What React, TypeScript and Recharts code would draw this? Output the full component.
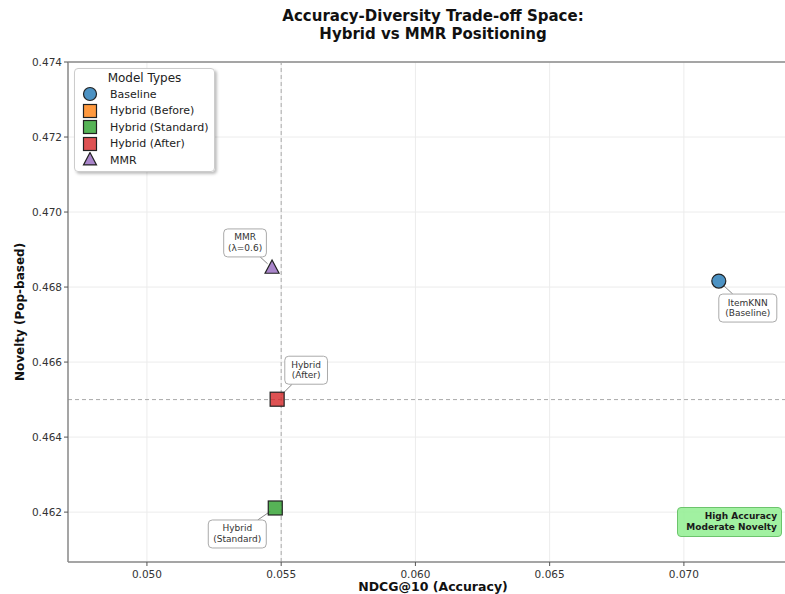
import React from "react";
import {
  ScatterChart,
  Scatter,
  XAxis,
  YAxis,
  CartesianGrid,
  ReferenceLine,
} from "recharts";

// model positions: NDCG@10 vs popularity-based novelty
const baselineNdcg = [0.0713];
const baselineNovelty = [0.46816];
const baselineNames = ["ItemKNN\n(Baseline)"];

const mmrNdcg = [0.05466];
const mmrNovelty = [0.46851];
const mmrNames = ["MMR\n(λ=0.6)"];

const hybridAfterNdcg = [0.05485];
const hybridAfterNovelty = [0.46501];
const hybridAfterNames = ["Hybrid\n(After)"];

const hybridStdNdcg = [0.05478];
const hybridStdNovelty = [0.46211];
const hybridStdNames = ["Hybrid\n(Standard)"];

const xTicks = [0.05, 0.055, 0.06, 0.065, 0.07];
const yTicks = [0.462, 0.464, 0.466, 0.468, 0.47, 0.472, 0.474];
const xDomain = [0.04706, 0.07425];
const yDomain = [0.46067, 0.474];
const refNdcg = 0.055;
const refNovelty = 0.465;

const legendItems = [
  { label: "Baseline", color: "#1f77b4", marker: "circle" },
  { label: "Hybrid (Before)", color: "#ff7f0e", marker: "square" },
  { label: "Hybrid (Standard)", color: "#2ca02c", marker: "square" },
  { label: "Hybrid (After)", color: "#d62728", marker: "square" },
  { label: "MMR", color: "#9467bd", marker: "triangle" },
];

const FONT = "'DejaVu Sans', sans-serif";

const zip = (xs: number[], ys: number[], names: string[]) =>
  xs.map((x, i) => ({ x, y: ys[i], name: names[i] }));

function Marker({ kind, cx, cy, color, size = 7 }: any) {
  const common = { fill: color, fillOpacity: 0.8, stroke: "#222", strokeWidth: 1.2 };
  if (kind === "circle") return <circle cx={cx} cy={cy} r={size} {...common} />;
  if (kind === "square")
    return <rect x={cx - size} y={cy - size} width={size * 2} height={size * 2} {...common} />;
  const h = size * 1.9;
  return (
    <polygon
      points={`${cx},${cy - h * 0.6} ${cx - size},${cy + h * 0.4} ${cx + size},${cy + h * 0.4}`}
      {...common}
    />
  );
}

// annotation box offset (px) relative to the point
function annotated(kind: string, color: string, dx: number, dy: number) {
  return (props: any) => {
    const { cx, cy, payload } = props;
    const lines: string[] = payload.name.split("\n");
    const w = Math.max(...lines.map((l) => l.length)) * 5.1 + 7;
    const h = 28;
    const bx = cx + dx;
    const by = cy + dy;
    const vx = cx - bx;
    const vy = cy - by;
    const len = Math.hypot(vx, vy);
    const s = Math.min(w / 2 / Math.abs(vx), h / 2 / Math.abs(vy));
    const x1 = bx + vx * s;
    const y1 = by + vy * s;
    const x2 = cx - (vx / len) * 6;
    const y2 = cy - (vy / len) * 6;
    return (
      <g>
        <line x1={x1} y1={y1} x2={x2} y2={y2} stroke="#888" strokeWidth={1} />
        <Marker kind={kind} cx={cx} cy={cy} color={color} />
        <rect
          x={bx - w / 2}
          y={by - h / 2}
          width={w}
          height={h}
          rx={4}
          fill="#fff"
          fillOpacity={0.85}
          stroke="#aaa"
          strokeWidth={1}
        />
        {lines.map((l, i) => (
          <text
            key={i}
            x={bx}
            y={by - 2.5 + i * 10.5}
            textAnchor="middle"
            fontSize={9}
            fontFamily={FONT}
            fill="#333"
          >
            {l}
          </text>
        ))}
      </g>
    );
  };
}

function LegendBox() {
  return (
    <div
      style={{
        position: "absolute",
        left: 74,
        top: 68,
        width: 139,
        height: 102,
        background: "rgba(255,255,255,0.92)",
        border: "1px solid #ccc",
        borderRadius: 4,
        boxShadow: "2px 2px 3px rgba(0,0,0,0.25)",
        fontFamily: FONT,
        color: "#222",
      }}
    >
      <div style={{ textAlign: "center", fontSize: 12, marginTop: 2, lineHeight: "15px" }}>
        Model Types
      </div>
      {legendItems.map((it) => (
        <div key={it.label} style={{ display: "flex", alignItems: "center", height: 16.5 }}>
          <svg width={30} height={16}>
            <Marker kind={it.marker} cx={15} cy={8} color={it.color} size={6.5} />
          </svg>
          <span style={{ fontSize: 11, marginLeft: 5 }}>{it.label}</span>
        </div>
      ))}
    </div>
  );
}

export default function App() {
  return (
    <div
      style={{
        position: "absolute",
        left: 0,
        top: 0,
        width: 785,
        height: 594,
        overflow: "hidden",
        background: "#fff",
        fontFamily: FONT,
      }}
    >
      <div
        style={{
          position: "absolute",
          left: 68,
          width: 730,
          top: 7,
          textAlign: "center",
          fontWeight: "bold",
          fontSize: 15,
          lineHeight: "18px",
          color: "#111",
        }}
      >
        Accuracy-Diversity Trade-off Space:
        <br />
        Hybrid vs MMR Positioning
      </div>
      <div style={{ position: "absolute", left: 0, top: 0 }}>
        <ScatterChart width={800} height={600} margin={{ top: 62, right: 2, left: 0, bottom: 0 }}>
          <CartesianGrid stroke="#ececec" strokeWidth={1} />
          <XAxis
            type="number"
            dataKey="x"
            domain={xDomain}
            ticks={xTicks}
            allowDataOverflow
            height={38}
            tickFormatter={(v: number) => v.toFixed(3)}
            tick={{ fontSize: 10.5, fill: "#333", fontFamily: FONT }}
            tickLine={{ stroke: "#555" }}
            tickSize={4}
            tickMargin={5}
            axisLine={{ stroke: "#8a8a8a", strokeWidth: 1.5 }}
            label={{
              value: "NDCG@10 (Accuracy)",
              position: "insideBottom",
              offset: 9,
              style: { fontSize: 12.5, fontWeight: "bold", fill: "#111", fontFamily: FONT },
            }}
          />
          <YAxis
            type="number"
            dataKey="y"
            domain={yDomain}
            ticks={yTicks}
            allowDataOverflow
            width={68}
            tickFormatter={(v: number) => v.toFixed(3)}
            tick={{ fontSize: 10.5, fill: "#333", fontFamily: FONT }}
            tickLine={{ stroke: "#555" }}
            tickSize={4}
            axisLine={{ stroke: "#8a8a8a", strokeWidth: 1.5 }}
            label={{
              value: "Novelty (Pop-based)",
              angle: -90,
              position: "insideLeft",
              offset: 20,
              style: {
                fontSize: 12,
                fontWeight: "bold",
                fill: "#111",
                fontFamily: FONT,
                textAnchor: "middle",
              },
            }}
          />
          <ReferenceLine y={yDomain[1]} stroke="#8a8a8a" strokeWidth={1.5} />
          <ReferenceLine x={refNdcg} stroke="#aaa" strokeDasharray="4 3" strokeWidth={1} />
          <ReferenceLine y={refNovelty} stroke="#aaa" strokeDasharray="4 3" strokeWidth={1} />
          <Scatter
            data={zip(baselineNdcg, baselineNovelty, baselineNames)}
            shape={annotated("circle", "#1f77b4", 29, 27)}
            isAnimationActive={false}
          />
          <Scatter
            data={zip(mmrNdcg, mmrNovelty, mmrNames)}
            shape={annotated("triangle", "#9467bd", -27, -25)}
            isAnimationActive={false}
          />
          <Scatter
            data={zip(hybridAfterNdcg, hybridAfterNovelty, hybridAfterNames)}
            shape={annotated("square", "#d62728", 29, -29)}
            isAnimationActive={false}
          />
          <Scatter
            data={zip(hybridStdNdcg, hybridStdNovelty, hybridStdNames)}
            shape={annotated("square", "#2ca02c", -38, 26)}
            isAnimationActive={false}
          />
        </ScatterChart>
      </div>
      <LegendBox />
      <div
        style={{
          position: "absolute",
          left: 677,
          top: 507,
          width: 95,
          padding: "3px 4px",
          background: "rgba(144,238,144,0.85)",
          border: "1px solid #6cc46c",
          borderRadius: 4,
          fontSize: 9,
          fontWeight: "bold",
          lineHeight: "11px",
          textAlign: "right",
          color: "#1a1a1a",
        }}
      >
        High Accuracy
        <br />
        Moderate Novelty
      </div>
    </div>
  );
}
